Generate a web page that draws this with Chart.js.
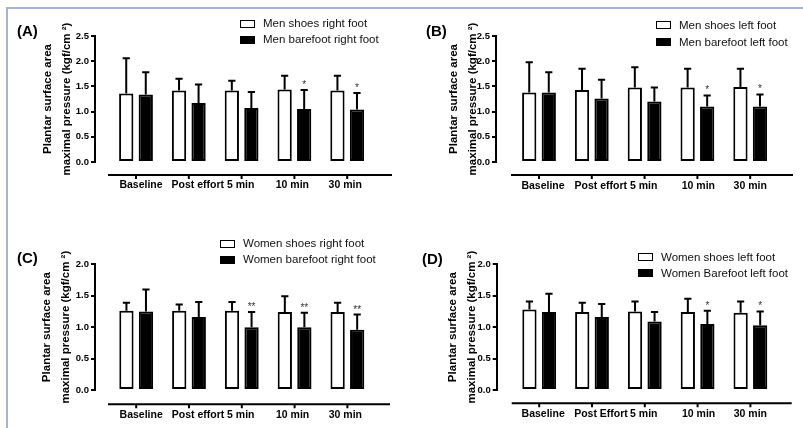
<!DOCTYPE html>
<html><head><meta charset="utf-8">
<script src="https://cdn.jsdelivr.net/npm/chart.js@4.4.1/dist/chart.umd.min.js"></script>
<style>
html,body{margin:0;padding:0;background:#fff;}
#page{position:relative;width:803px;height:428px;overflow:hidden;background:#fff;font-family:"Liberation Sans",Arial,sans-serif;}
#frame{position:absolute;left:6px;top:7px;right:-4px;bottom:-4px;border-top:2px solid #a8b0dc;border-left:2px solid #a8b0dc;}
canvas{position:absolute;}
.tag{position:absolute;font-weight:bold;font-size:15px;line-height:15px;color:#000;}
.lg{position:absolute;font-size:11.5px;line-height:14px;color:#111;white-space:nowrap;}
.box{position:absolute;width:15px;height:8px;box-sizing:border-box;border:1.5px solid #000;background:#fff;}
.box.k{background:#000;}
</style></head>
<body><div id="page">
<div id="frame"></div>
<canvas id="cA" width="401" height="220" style="left:0;top:0"></canvas>
<canvas id="cB" width="402" height="220" style="left:401px;top:0"></canvas>
<canvas id="cC" width="401" height="208" style="left:0;top:220px"></canvas>
<canvas id="cD" width="402" height="208" style="left:401px;top:220px"></canvas>

<div class="tag" style="left:17px;top:23px">(A)</div>
<div class="tag" style="left:426px;top:23px">(B)</div>
<div class="tag" style="left:17px;top:250px">(C)</div>
<div class="tag" style="left:422px;top:251px">(D)</div>

<div class="box" style="left:240px;top:20px"></div><div class="lg" style="left:263px;top:16px">Men shoes right foot</div>
<div class="box k" style="left:240px;top:36px"></div><div class="lg" style="left:263px;top:32px">Men barefoot right foot</div>

<div class="box" style="left:656px;top:21px"></div><div class="lg" style="left:679px;top:18px">Men shoes left foot</div>
<div class="box k" style="left:656px;top:38px"></div><div class="lg" style="left:679px;top:34.5px">Men barefoot left foot</div>

<div class="box" style="left:220px;top:240px"></div><div class="lg" style="left:243px;top:236px">Women shoes right foot</div>
<div class="box k" style="left:220px;top:256px"></div><div class="lg" style="left:243px;top:252px">Women barefoot right foot</div>

<div class="box" style="left:638px;top:252.5px"></div><div class="lg" style="left:661px;top:249.5px">Women shoes left foot</div>
<div class="box k" style="left:638px;top:269px"></div><div class="lg" style="left:661px;top:266px">Women Barefoot left foot</div>
</div>
<script>
// ---------- data ----------
const categories  = ['Baseline', 'Post effort', '5 min', '10 min', '30 min'];
const categoriesD = ['Baseline', 'Post Effort', '5 min', '10 min', '30 min'];
const yTickLabelsMen   = ['0.0', '0.5', '1.0', '1.5', '2.0', '2.5'];
const yTickLabelsWomen = ['0.0', '0.5', '1.0', '1.5', '2.0'];
const yTitle = ['Plantar surface area', 'maximal pressure (kgf/cm \u00B2)'];

// (A) men, right foot
const menRightShoes     = [1.36, 1.42, 1.42, 1.44, 1.42];
const menRightShoesSD   = [0.70, 0.23, 0.19, 0.27, 0.29];
const menRightBare      = [1.34, 1.17, 1.07, 1.05, 1.04];
const menRightBareSD    = [0.44, 0.37, 0.32, 0.38, 0.33];
const menRightSig       = ['', '', '', '*', '*'];
// (B) men, left foot
const menLeftShoes      = [1.38, 1.43, 1.48, 1.48, 1.49];
const menLeftShoesSD    = [0.60, 0.42, 0.40, 0.37, 0.36];
const menLeftBare       = [1.38, 1.26, 1.20, 1.10, 1.10];
const menLeftBareSD     = [0.40, 0.37, 0.28, 0.22, 0.24];
const menLeftSig        = ['', '', '', '*', '*'];
// (C) women, right foot
const womenRightShoes   = [1.26, 1.26, 1.26, 1.24, 1.24];
const womenRightShoesSD = [0.13, 0.10, 0.14, 0.25, 0.15];
const womenRightBare    = [1.25, 1.16, 1.00, 1.00, 0.96];
const womenRightBareSD  = [0.35, 0.24, 0.24, 0.23, 0.24];
const womenRightSig     = ['', '', '**', '**', '**'];
// (D) women, left foot
const womenLeftShoes    = [1.28, 1.24, 1.25, 1.24, 1.23];
const womenLeftShoesSD  = [0.13, 0.15, 0.16, 0.21, 0.18];
const womenLeftBare     = [1.24, 1.16, 1.09, 1.05, 1.03];
const womenLeftBareSD   = [0.29, 0.21, 0.15, 0.21, 0.22];
const womenLeftSig      = ['', '', '', '*', '*'];

// ---------- rendering ----------
Chart.defaults.font.family = '"Liberation Sans", Arial, sans-serif';
Chart.defaults.color = '#000';

const decor = {
  id: 'decor',
  afterDatasetsDraw(chart, args, opts) {
    const ctx = chart.ctx, ys = chart.scales.y, xs = chart.scales.x;
    ctx.save();
    ctx.strokeStyle = '#000';
    ctx.fillStyle = '#000';
    ctx.lineWidth = 2;
    ctx.lineCap = 'butt';
    chart.data.datasets.forEach((ds, di) => {
      const meta = chart.getDatasetMeta(di);
      meta.data.forEach((bar, i) => {
        const v = ds.data[i].y, sd = ds.errors[i];
        const yTop = ys.getPixelForValue(v + sd);
        ctx.beginPath();
        ctx.moveTo(bar.x, bar.y);
        ctx.lineTo(bar.x, yTop);
        ctx.moveTo(bar.x - 3.6, yTop);
        ctx.lineTo(bar.x + 3.6, yTop);
        ctx.stroke();
        const m = ds.marks ? ds.marks[i] : '';
        if (m) {
          ctx.font = '10px "Liberation Sans", Arial, sans-serif';
          ctx.fillStyle = '#333';
          ctx.textAlign = 'center';
          ctx.textBaseline = 'alphabetic';
          ctx.fillText(m, bar.x, yTop - 2);
          ctx.fillStyle = '#000';
        }
      });
    });
    const yA = chart.chartArea.bottom + opts.gap;
    ctx.beginPath();
    ctx.moveTo(xs.getPixelForValue(opts.from), yA);
    ctx.lineTo(chart.chartArea.right, yA);
    xs.ticks.forEach((t, i) => {
      const px = xs.getPixelForTick(i);
      ctx.moveTo(px, yA);
      ctx.lineTo(px, yA + 4);
    });
    ctx.stroke();
    ctx.restore();
  }
};

function makePanel(id, labels, shoes, shoesSD, bare, bareSD, sig, yLabels, g) {
  const spacing = 52.8;
  const lh = 18.4;
  const padLeft = g.titleX - lh / 2;
  const yWidth = g.yAxisX - padLeft;
  const xMin = -(g.c0 - g.yAxisX) / spacing;
  const xMax = xMin + (g.axisTo - g.yAxisX) / spacing;
  const fromVal = xMin + (g.axisFrom - g.yAxisX) / spacing;
  const xHeight = 40;
  const yMax = parseFloat(yLabels[yLabels.length - 1]);
  new Chart(document.getElementById(id), {
    type: 'bar',
    data: {
      datasets: [
        { data: shoes.map((v, i) => ({ x: i, y: v })), errors: shoesSD,
          backgroundColor: '#fff', borderColor: '#000', borderWidth: 2, borderSkipped: false },
        { data: bare.map((v, i) => ({ x: i, y: v })), errors: bareSD, marks: sig,
          backgroundColor: '#000', borderColor: '#000', borderWidth: 2, borderSkipped: false }
      ]
    },
    options: {
      responsive: false, animation: false, devicePixelRatio: 1,
      categoryPercentage: 0.74, barPercentage: 0.73,
      layout: { padding: { left: padLeft, top: g.plotTop, right: g.w - g.axisTo, bottom: g.h - g.plotBottom - xHeight } },
      plugins: { legend: { display: false }, tooltip: { enabled: false },
                 decor: { gap: g.gap, from: fromVal } },
      scales: {
        x: {
          type: 'linear', display: false, min: xMin, max: xMax, offset: false, bounds: 'data',
          afterBuildTicks: s => { s.ticks = labels.map((_, i) => ({ value: i })); }
        },
        xLabels: {
          type: 'linear', axis: 'x', position: 'bottom', min: xMin, max: xMax, offset: false, bounds: 'data',
          grid: { display: false, drawTicks: false }, border: { display: false },
          afterBuildTicks: s => { s.ticks = labels.map((_, i) => ({ value: i + g.labelShift[i] / spacing })); },
          afterFit: s => { s.height = xHeight; },
          ticks: { autoSkip: false, maxRotation: 0, minRotation: 0, padding: g.labelPad,
                   font: { size: 10.5, weight: 'bold' }, color: '#000',
                   callback: (v, i) => labels[i] }
        },
        y: {
          min: 0, max: yMax,
          grid: { display: true, drawOnChartArea: false, drawTicks: true, tickLength: 4, color: '#000', lineWidth: 2 },
          border: { display: true, color: '#000', width: 2 },
          afterBuildTicks: s => { s.ticks = yLabels.map(t => ({ value: parseFloat(t) })); },
          afterFit: s => { s.width = yWidth; },
          ticks: { padding: 2, font: { size: 9.5, weight: 'bold' }, color: '#000',
                   callback: (v, i) => yLabels[i] },
          title: { display: true, text: yTitle, padding: 0, color: '#000',
                   font: { size: 11.5, weight: 'bold', lineHeight: 1.6 } }
        }
      }
    },
    plugins: [decor]
  });
}

makePanel('cA', categories, menRightShoes, menRightShoesSD, menRightBare, menRightBareSD, menRightSig, yTickLabelsMen,
  { w: 401, h: 220, yAxisX: 95, c0: 136, plotTop: 36, plotBottom: 162, axisFrom: 108, axisTo: 392, gap: 13, titleX: 48, labelPad: 17,
    labelShift: [5, 9, -1, -2, -2] });
makePanel('cB', categories, menLeftShoes, menLeftShoesSD, menLeftBare, menLeftBareSD, menLeftSig, yTickLabelsMen,
  { w: 402, h: 220, yAxisX: 95, c0: 138, plotTop: 36, plotBottom: 162, axisFrom: 110, axisTo: 392, gap: 13, titleX: 53, labelPad: 17.5,
    labelShift: [4, 9, -1, 1, 0] });
makePanel('cC', categories, womenRightShoes, womenRightShoesSD, womenRightBare, womenRightBareSD, womenRightSig, yTickLabelsWomen,
  { w: 401, h: 208, yAxisX: 95, c0: 136.2, plotTop: 44.3, plotBottom: 170, axisFrom: 108, axisTo: 390, gap: 14.3, titleX: 47, labelPad: 18.7,
    labelShift: [5, 9, -1, -2, -2] });
makePanel('cD', categoriesD, womenLeftShoes, womenLeftShoesSD, womenLeftBare, womenLeftBareSD, womenLeftSig, yTickLabelsWomen,
  { w: 402, h: 208, yAxisX: 95.7, c0: 138.2, plotTop: 44.3, plotBottom: 170, axisFrom: 110.7, axisTo: 390.7, gap: 13.3, titleX: 52.3, labelPad: 18,
    labelShift: [4, 9, -1, 1, 0] });
</script>
</body></html>
